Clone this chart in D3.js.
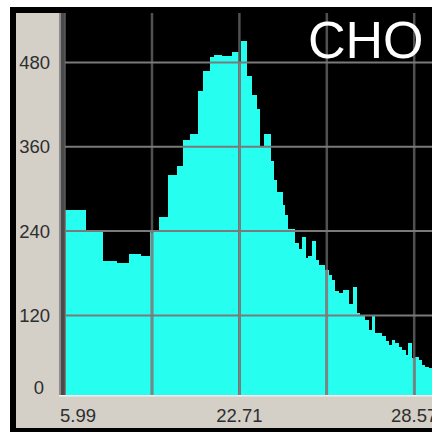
<!DOCTYPE html>
<html>
<head>
<meta charset="utf-8">
<script src="https://cdn.jsdelivr.net/npm/d3@7"></script>
<style>
  html, body { margin: 0; padding: 0; background: #ffffff; }
  svg { display: block; }
</style>
</head>
<body>
<svg id="chart" width="432" height="432"></svg>
<script>
// Histogram bins: left edges (plus final right edge) in axis units, and counts
const binEdges = [0, 5.9, 10.9, 15.0, 18.3, 21.7, 24.5, 26.9, 29.6, 32.2, 34.0, 35.9, 38.1, 39.7,
  41.6, 42.8, 44.9, 47.8, 49.7, 50.4, 52.1, 53.5, 54.8, 55.9, 57.0, 58.8, 59.7, 60.7, 62.4, 63.0,
  63.7, 65.9, 66.9, 67.8, 68.8, 69.7, 70.9, 71.8, 72.6, 74.5, 75.4, 76.4, 77.1, 78.3, 79.7, 81.2,
  82.4, 83.6, 84.5, 85.9, 86.9, 87.8, 88.8, 90.7, 91.7, 92.6, 93.6, 94.5, 95.5, 96.4, 97.4, 98.3,
  99.3, 100.2, 101.2, 102.2, 103.1, 104.1, 106];
const counts = [270, 238, 198, 194, 208, 205, 238, 260, 320, 332, 370, 378, 439, 468, 488, 490,
  489, 495, 479, 510, 460, 434, 414, 361, 378, 340, 313, 296, 277, 263, 243, 223, 214, 231, 201,
  204, 226, 199, 192, 185, 178, 170, 155, 152, 156, 136, 160, 123, 121, 113, 99, 121, 95, 90, 83,
  78, 85, 81, 75, 71, 64, 80, 59, 61, 57, 49, 47, 45];

const xGridValues = [0, 25, 50, 75, 100];
const xTickValues = [0, 50, 100];
const xTickLabels = ["5.99", "22.71", "28.57"];
const yTickValues = [0, 120, 240, 360, 480];
const title = "CHO";

const bins = counts.map((c, i) => ({ x0: binEdges[i], x1: binEdges[i + 1], count: c }));

const svg = d3.select("#chart");
const W = 432, H = 432;
const plot = { left: 64.6, top: 13, right: 432, bottom: 395 };

const x = d3.scaleLinear().domain([0, 100]).range([64.6, 414.2]);
const y = d3.scaleLinear().domain([0, 480]).range([399.7, 62.4]);

// Window frame and panel
svg.append("rect").attr("width", W).attr("height", H).attr("fill", "#ffffff");
svg.append("rect").attr("x", 10).attr("y", 7).attr("width", W - 10).attr("height", H - 7).attr("fill", "#000000");
svg.append("rect").attr("x", 16).attr("y", 13).attr("width", W - 16).attr("height", 415).attr("fill", "#d4d0c8");

// Plot area
svg.append("rect")
  .attr("x", plot.left).attr("y", plot.top)
  .attr("width", plot.right - plot.left).attr("height", plot.bottom - plot.top)
  .attr("fill", "#000000");

const defs = svg.append("defs");
defs.append("clipPath").attr("id", "plotClip")
  .append("rect")
  .attr("x", plot.left).attr("y", plot.top)
  .attr("width", plot.right - plot.left).attr("height", plot.bottom - plot.top);

// Clip made of the bars, used to lighten the vertical grid where it crosses them
const barClip = defs.append("clipPath").attr("id", "barClip");
barClip.selectAll("rect").data(bins).join("rect")
  .attr("x", d => x(d.x0)).attr("width", d => x(d.x1) - x(d.x0))
  .attr("y", d => y(d.count)).attr("height", d => y(0) - y(d.count));

const g = svg.append("g").attr("clip-path", "url(#plotClip)");

g.append("g").attr("shape-rendering", "crispEdges")
  .selectAll("rect").data(bins).join("rect")
  .attr("x", d => x(d.x0))
  .attr("width", d => x(d.x1) - x(d.x0) + 0.4)
  .attr("y", d => y(d.count))
  .attr("height", d => y(0) - y(d.count))
  .attr("fill", "#26fff0");

// Vertical grid
g.append("g").selectAll("line").data(xGridValues).join("line")
  .attr("x1", d => x(d)).attr("x2", d => x(d))
  .attr("y1", plot.top).attr("y2", plot.bottom)
  .attr("stroke", "#505050").attr("stroke-width", 2.5);
g.append("g").attr("clip-path", "url(#barClip)")
  .selectAll("line").data(xGridValues).join("line")
  .attr("x1", d => x(d)).attr("x2", d => x(d))
  .attr("y1", plot.top).attr("y2", plot.bottom)
  .attr("stroke", "#828282").attr("stroke-width", 2.5);

// Horizontal grid
g.append("g").selectAll("line").data(yTickValues).join("line")
  .attr("x1", plot.left).attr("x2", plot.right)
  .attr("y1", d => y(d)).attr("y2", d => y(d))
  .attr("stroke", "#7a7a7a").attr("stroke-width", 2);

// Left axis edge and bottom highlight
svg.append("rect").attr("x", 59).attr("y", 13).attr("width", 2).attr("height", plot.bottom - 13).attr("fill", "#8c8c8c");
svg.append("rect").attr("x", 61).attr("y", 13).attr("width", plot.left - 61).attr("height", plot.bottom - 13).attr("fill", "#4a4a4a");
svg.append("rect").attr("x", 59).attr("y", plot.bottom).attr("width", W - 59).attr("height", 1.5).attr("fill", "#f2f2f2");

// Tick labels
const font = "'Liberation Sans', Arial, sans-serif";
const yLabelBottom = 387;
svg.append("g").selectAll("text").data(yTickValues).join("text")
  .attr("x", d => y(d) > yLabelBottom ? 39 : 50)
  .attr("y", d => Math.min(y(d), yLabelBottom))
  .attr("text-anchor", d => y(d) > yLabelBottom ? "middle" : "end")
  .attr("dominant-baseline", "central")
  .attr("font-family", font).attr("font-size", 18.5)
  .attr("fill", "#2e2e2e")
  .text(d => d);

svg.append("g").selectAll("text").data(xTickValues).join("text")
  .attr("x", (d, i) => i === 0 ? 60 : x(d))
  .attr("y", 415)
  .attr("text-anchor", (d, i) => i === 0 ? "start" : "middle")
  .attr("dominant-baseline", "central")
  .attr("font-family", font).attr("font-size", 18.5)
  .attr("fill", "#2e2e2e")
  .text((d, i) => xTickLabels[i]);

// Title
svg.append("text")
  .attr("x", 308).attr("y", 58)
  .attr("font-family", font).attr("font-size", 52)
  .attr("fill", "#ffffff")
  .text(title);
</script>
</body>
</html>
